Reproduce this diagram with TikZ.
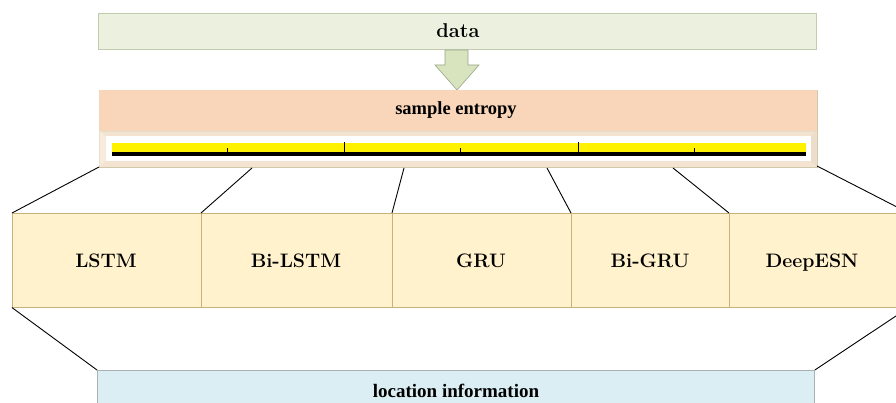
\documentclass[tikz,border=0pt]{standalone}
\usepackage{fontspec}
\newfontfamily\timesbf{Liberation Serif}[BoldFont={Liberation Serif Bold}]
\begin{document}
\begin{tikzpicture}[x=1pt,y=-1pt,
  databox/.style={draw=datadraw,fill=datafill,line width=0.8pt},
  modelbox/.style={draw=modeldraw,fill=modelfill,line width=0.6pt,minimum height=94pt,inner sep=0pt,anchor=north west},
  modeltxt/.style={font=\fontsize{19.5}{22}\selectfont\bfseries,anchor=base,inner sep=0pt},
  link/.style={draw=black,line width=0.9pt}]
\definecolor{datafill}{HTML}{EBF1DE}
\definecolor{datadraw}{HTML}{C4CCB0}
\definecolor{arrowfill}{HTML}{D7E4BD}
\definecolor{arrowdraw}{HTML}{9AA68A}
\definecolor{sefill}{HTML}{F9D6BA}
\definecolor{sedraw}{HTML}{CFC9AA}
\definecolor{bevel}{HTML}{F3E3D0}
\definecolor{modelfill}{HTML}{FFF2CC}
\definecolor{modeldraw}{HTML}{C8B27A}
\definecolor{locfill}{HTML}{DAEEF3}
\definecolor{locdraw}{HTML}{A8B0B4}
\useasboundingbox (0,0) rectangle (896,403);
\begin{scope}
\clip (0,0) rectangle (896,403);
% data
\node[databox,minimum width=718pt,minimum height=36pt,inner sep=0pt,anchor=north west] (data) at (98,13) {};
\node[font=\fontsize{20}{24}\selectfont\bfseries,anchor=base,inner sep=0pt] (datatxt) at (458,38) {data};
% arrow
\draw[draw=arrowdraw,fill=arrowfill,line width=0.6pt] (445,50) -- (468,50) -- (468,65) -- (479,65) -- (457,90) -- (435,65) -- (445,65) -- cycle;
% sample entropy
\node[draw=sedraw,fill=bevel,line width=0.8pt,minimum width=718pt,minimum height=77pt,inner sep=0pt,anchor=north west] (se) at (99,90) {};
\fill[sefill] (99.4,90.4) rectangle (816.6,131);
\draw[sedraw!60,line width=0.5pt] (99.4,131) -- (816.6,131);
\fill[white] (106,136) rectangle (811,161);
\fill[bevel!70!white] (99.4,131.3) -- (106,136) -- (106,161) -- (99.4,166.6) -- cycle;
\fill[bevel!80!black!12!bevel] (816.6,131.3) -- (811,136) -- (811,161) -- (816.6,166.6) -- cycle;
\node[font=\timesbf\fontsize{18.5}{20}\selectfont\bfseries,anchor=base,inner sep=0pt] (setxt) at (456,115) {sample entropy};
\fill[yellow] (112,143) rectangle (806,152);
\fill[black] (112,152) rectangle (806,156);
\foreach \t in {344,578} \draw[line width=1pt] (\t,142) -- (\t,153);
\foreach \t in {227,460,694} \draw[line width=1pt] (\t,148) -- (\t,153);
% model boxes
\node[modelbox,minimum width=189pt] (m1) at (12,213) {};
\node[modelbox,minimum width=191pt] (m2) at (201,213) {};
\node[modelbox,minimum width=179pt] (m3) at (392,213) {};
\node[modelbox,minimum width=158pt] (m4) at (571,213) {};
\node[modelbox,minimum width=179pt] (m5) at (729,213) {};
\node[modeltxt] (t1) at (106,267) {LSTM};
\node[modeltxt] (t2) at (296,267) {Bi-LSTM};
\node[modeltxt] (t3) at (481,267) {GRU};
\node[modeltxt] (t4) at (650,267) {Bi-GRU};
\node[modeltxt] (t5) at (812,267) {DeepESN};
% location
\node[draw=locdraw,fill=locfill,line width=0.8pt,minimum width=717pt,minimum height=50pt,inner sep=0pt,anchor=north west] (loc) at (97,370) {};
\node[font=\timesbf\fontsize{19}{20}\selectfont\bfseries,anchor=base,inner sep=0pt] (loctxt) at (456,397) {location information};
% links
\coordinate (a0) at (99,167);
\coordinate (a1) at (252,168);
\coordinate (a2) at (404,168);
\coordinate (a3) at (547,168);
\coordinate (a4) at (673,168);
\coordinate (a5) at (817,166);
\draw[link] (a0) -- (m1.north west);
\draw[link] (a1) -- (m2.north west);
\draw[link] (a2) -- (m3.north west);
\draw[link] (a3) -- (m4.north west);
\draw[link] (a4) -- (m5.north west);
\draw[link] (a5) -- (m5.north east);
\draw[link] (m1.south west) -- (loc.north west);
\draw[link] (m5.south east) -- (loc.north east);
\end{scope}
\end{tikzpicture}
\end{document}
